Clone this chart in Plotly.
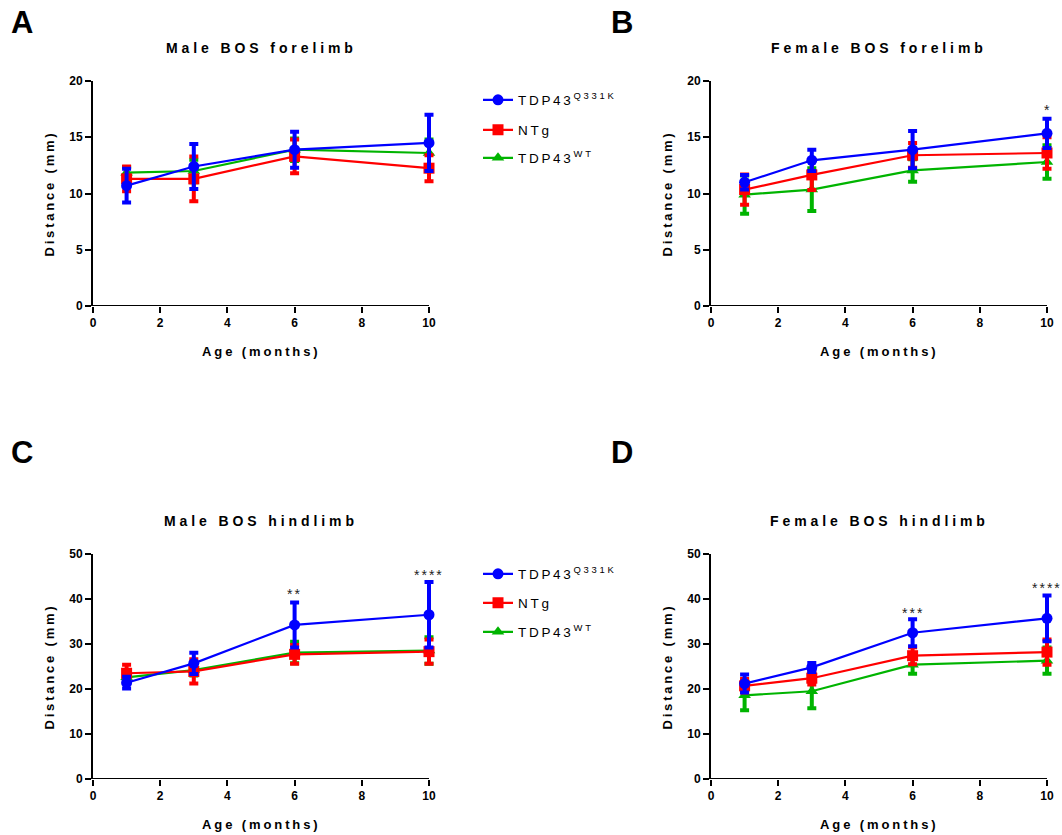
import plotly.graph_objects as go

# ---------------- data ----------------
ages = [1, 3, 6, 10]
x_ticks = [0, 2, 4, 6, 8, 10]
fore_ticks = [0, 5, 10, 15, 20]
hind_ticks = [0, 10, 20, 30, 40, 50]

group_names = ["TDP43<sup>Q331K</sup>", "NTg", "TDP43<sup>WT</sup>"]
panel_titles = ["Male BOS forelimb", "Female BOS forelimb", "Male BOS hindlimb", "Female BOS hindlimb"]
panel_letters = ["A", "B", "C", "D"]

# Panel A: male forelimb
male_fore_q331k = [10.7, 12.4, 13.9, 14.5]
male_fore_q331k_err = [1.5, 2.0, 1.6, 2.5]
male_fore_ntg = [11.3, 11.3, 13.3, 12.25]
male_fore_ntg_err = [1.1, 2.0, 1.5, 1.15]
male_fore_wt = [11.85, 12.0, 13.9, 13.6]
male_fore_wt_err = [0.5, 1.0, 1.0, 1.2]

# Panel B: female forelimb
female_fore_q331k = [11.0, 12.95, 13.9, 15.35]
female_fore_q331k_err = [0.65, 0.95, 1.65, 1.3]
female_fore_ntg = [10.35, 11.65, 13.4, 13.6]
female_fore_ntg_err = [1.35, 1.35, 1.1, 1.4]
female_fore_wt = [9.9, 10.35, 12.05, 12.8]
female_fore_wt_err = [1.7, 1.9, 1.0, 1.5]

# Panel C: male hindlimb
male_hind_q331k = [21.4, 25.7, 34.25, 36.5]
male_hind_q331k_err = [1.3, 2.35, 5.0, 7.3]
male_hind_ntg = [23.5, 23.9, 27.7, 28.3]
male_hind_ntg_err = [1.9, 2.7, 2.1, 2.7]
male_hind_wt = [22.6, 24.2, 28.1, 28.55]
male_hind_wt_err = [1.0, 1.2, 2.4, 2.95]

# Panel D: female hindlimb
female_hind_q331k = [21.2, 24.8, 32.5, 35.7]
female_hind_q331k_err = [2.0, 1.0, 3.0, 5.1]
female_hind_ntg = [20.7, 22.4, 27.4, 28.2]
female_hind_ntg_err = [1.5, 1.4, 1.9, 2.8]
female_hind_wt = [18.6, 19.5, 25.4, 26.3]
female_hind_wt_err = [3.3, 3.8, 2.0, 2.9]

# significance marks (panel index, age, y position, label)
sig_panel = [1, 2, 2, 3, 3]
sig_age = [10, 6, 10, 6, 10]
sig_y = [17.4, 41.1, 45.3, 36.8, 42.4]
sig_text = ["*", "**", "****", "***", "****"]

# ---------------- styling ----------------
FONT = "Liberation Sans, Arial, sans-serif"
colors = ["#0000FF", "#FF0000", "#00B400"]
symbols = ["circle", "square", "triangle-up"]
W, H = 1062, 835

x_left = [93, 711, 93, 711]
x_right = [429, 1047, 429, 1047]
y_top = [81, 81, 554, 554]
y_bot = [306, 306, 779, 779]
y_ranges = [[0, 20], [0, 20], [0, 50], [0, 50]]
y_tickvals = [fore_ticks, fore_ticks, hind_ticks, hind_ticks]
X_MAX = 10
X_EXTRA = 0.3  # extra room right of x=10 so error bars are not clipped

legend_y_top = [100, 130, 158]
legend_y_bot = [574, 603, 632]
legend_x = 478

panels = [
    [(male_fore_q331k, male_fore_q331k_err), (male_fore_ntg, male_fore_ntg_err), (male_fore_wt, male_fore_wt_err)],
    [(female_fore_q331k, female_fore_q331k_err), (female_fore_ntg, female_fore_ntg_err), (female_fore_wt, female_fore_wt_err)],
    [(male_hind_q331k, male_hind_q331k_err), (male_hind_ntg, male_hind_ntg_err), (male_hind_wt, male_hind_wt_err)],
    [(female_hind_q331k, female_hind_q331k_err), (female_hind_ntg, female_hind_ntg_err), (female_hind_wt, female_hind_wt_err)],
]


def sp(text, ls):
    return f'<span style="letter-spacing:{ls}px">{text}</span>'


def lname(k):
    return "legend" if k == 1 else f"legend{k}"


fig = go.Figure()

for p in range(4):
    xa = "x" if p == 0 else f"x{p+1}"
    ya = "y" if p == 0 else f"y{p+1}"
    # draw green, red, blue (blue on top)
    for g in [2, 1, 0]:
        vals, errs = panels[p][g]
        show = p in (0, 2)
        leg = lname(g + 1) if p == 0 else lname(g + 4)
        fig.add_trace(go.Scatter(
            x=ages, y=vals, xaxis=xa, yaxis=ya,
            mode="lines+markers",
            name=sp(group_names[g], 2.7),
            legend=leg,
            showlegend=show,
            line=dict(color=colors[g], width=2.2),
            marker=dict(symbol=symbols[g], size=11, color=colors[g]),
            error_y=dict(type="data", array=errs, visible=True, color=colors[g],
                         thickness=4, width=4.5),
            cliponaxis=False,
        ))

layout = dict(
    width=W, height=H, autosize=False,
    margin=dict(l=0, r=0, t=0, b=0, pad=0, autoexpand=False),
    paper_bgcolor="white", plot_bgcolor="white",
    font=dict(family=FONT, color="black"),
)

for i in range(3):
    for k, ypix in ((i + 1, legend_y_top[i]), (i + 4, legend_y_bot[i])):
        layout[lname(k)] = dict(x=legend_x / W, y=1 - ypix / H, xanchor="left", yanchor="middle",
                                font=dict(size=13.5, family=FONT), bgcolor="rgba(0,0,0,0)")

axis_common = dict(
    linecolor="black", linewidth=2,
    ticks="outside", ticklen=6, tickwidth=2, tickcolor="black",
    showgrid=False, zeroline=False, automargin=False,
    tickfont=dict(size=12, family=FONT, weight="bold", color="black"),
)

shapes = []
for p in range(4):
    xk = "xaxis" if p == 0 else f"xaxis{p+1}"
    yk = "yaxis" if p == 0 else f"yaxis{p+1}"
    ya = "y" if p == 0 else f"y{p+1}"
    xa = "x" if p == 0 else f"x{p+1}"
    px_per_unit = (x_right[p] - x_left[p]) / X_MAX
    right_px = x_right[p] + X_EXTRA * px_per_unit
    layout[xk] = dict(axis_common, showline=False, domain=[x_left[p] / W, right_px / W],
                      range=[0, X_MAX + X_EXTRA], tickvals=x_ticks, anchor=ya, fixedrange=True)
    layout[yk] = dict(axis_common, showline=True, domain=[1 - y_bot[p] / H, 1 - y_top[p] / H],
                      range=y_ranges[p], tickvals=y_tickvals[p], anchor=xa, fixedrange=True)
    # x-axis line from 0 to 10 only
    shapes.append(dict(type="line", xref=xa, yref=ya, x0=0, x1=X_MAX, y0=0, y1=0,
                       line=dict(color="black", width=2), layer="below"))

annotations = []
for p in range(4):
    cx = (x_left[p] + x_right[p]) / 2
    cy = (y_top[p] + y_bot[p]) / 2
    # panel title
    annotations.append(dict(text=sp(panel_titles[p], 3.9), xref="paper", yref="paper",
                            x=cx / W, y=1 - (y_top[p] - 33) / H, xanchor="center", yanchor="middle",
                            showarrow=False, font=dict(size=14, family=FONT, weight="bold")))
    # x-axis title
    annotations.append(dict(text=sp("Age (months)", 2.9), xref="paper", yref="paper",
                            x=cx / W, y=1 - (y_bot[p] + 45) / H, xanchor="center", yanchor="middle",
                            showarrow=False, font=dict(size=13, family=FONT, weight="bold")))
    # y-axis title
    annotations.append(dict(text=sp("Distance (mm)", 2.8), xref="paper", yref="paper",
                            x=(x_left[p] - 44) / W, y=1 - cy / H, xanchor="center", yanchor="middle",
                            textangle=-90,
                            showarrow=False, font=dict(size=13, family=FONT, weight="bold")))
    # panel letter
    lx = 22 if p in (0, 2) else 622
    ly = 22 if p in (0, 1) else 452
    annotations.append(dict(text=panel_letters[p], xref="paper", yref="paper",
                            x=lx / W, y=1 - ly / H, xanchor="center", yanchor="middle",
                            showarrow=False, font=dict(size=31, family=FONT, weight="bold")))

for i in range(len(sig_text)):
    p = sig_panel[i]
    xa = "x" if p == 0 else f"x{p+1}"
    ya = "y" if p == 0 else f"y{p+1}"
    annotations.append(dict(text=sp(sig_text[i], 2), xref=xa, yref=ya, x=sig_age[i], y=sig_y[i],
                            xanchor="center", yanchor="middle", showarrow=False,
                            font=dict(size=14, family=FONT, color="#222222")))

layout["annotations"] = annotations
layout["shapes"] = shapes
fig.update_layout(**layout)

fig.write_html("out.html", config={"displayModeBar": False},
               post_script="document.body.style.margin='0';")
